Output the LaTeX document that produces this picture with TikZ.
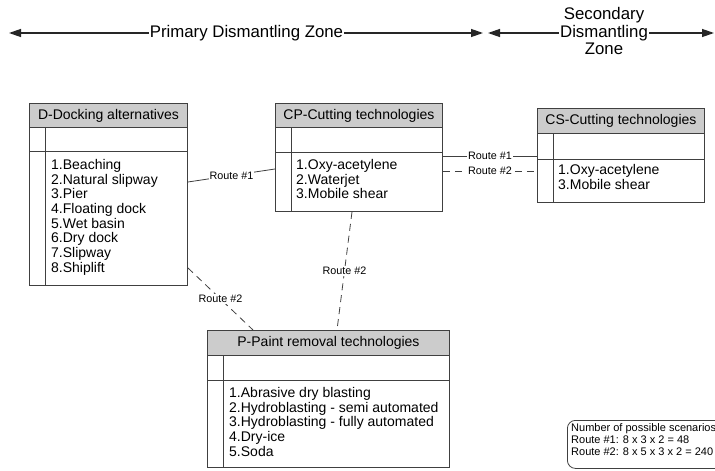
\documentclass[tikz,border=0pt]{standalone}
\usepackage{fontspec}
\setmainfont{Liberation Sans}
\usetikzlibrary{arrows.meta}
\tikzset{
  boxline/.style={draw=black!75, line width=0.9pt},
  hdr/.style={boxline, fill=black!20, font=\fontsize{14}{14.7}\selectfont, inner sep=0pt, anchor=north west},
  cell/.style={boxline, fill=white, inner sep=0pt, anchor=north west},
  listtext/.style={font=\fontsize{14}{14.7}\selectfont, align=left, inner sep=0pt, anchor=north west},
  route/.style={draw=black!75, line width=0.8pt},
  dashroute/.style={route, dash pattern=on 7pt off 5pt},
  rlabel/.style={font=\fontsize{10.8}{12}\selectfont, fill=white, inner xsep=1pt, inner ysep=1pt},
  zonearrow/.style={draw=black!85, line width=1.3pt, {Triangle[length=12pt,width=8pt]}-{Triangle[length=12pt,width=8pt]}},
  zonelabel/.style={font=\fontsize{16.8}{17.5}\selectfont, fill=white, inner xsep=1pt, inner ysep=0pt, align=center},
  notebox/.style={draw=black!75, line width=0.8pt, rounded corners=8pt, inner sep=0pt, anchor=north west},
  notetext/.style={font=\fontsize{11}{12}\selectfont, align=left, inner sep=0pt, anchor=north west},
}
\begin{document}
\begin{tikzpicture}[x=1pt,y=-1pt]
\useasboundingbox (0,0) rectangle (715,471);
\clip (0,0) rectangle (715,471);
\fill[white] (0,0) rectangle (715,471);

% zone arrows
\coordinate (pL) at (9,33);
\coordinate (pR) at (483,33);
\coordinate (sL) at (488,33);
\coordinate (sR) at (714,33);
\draw[zonearrow] (pL) -- (pR);
\draw[zonearrow] (sL) -- (sR);
\node[zonelabel, anchor=base] (pz) at (246.5,37.3) {Primary Dismantling Zone};
\node[zonelabel, anchor=north] (sz) at (604,7.5) {Secondary\\Dismantling\\Zone};

% D box
\node[hdr, minimum width=158, minimum height=24] (Dh) at (29,103) {D-Docking alternatives};
\node[cell, minimum width=158, minimum height=24] (Dr) at (29,127) {};
\node[cell, minimum width=158, minimum height=134] (Db) at (29,151) {};
\draw[boxline] ([xshift=16pt]Dr.north west) -- ([xshift=16pt]Db.south west);
\node[listtext] (Dl) at (51,159) {1.Beaching\\2.Natural slipway\\3.Pier\\4.Floating dock\\5.Wet basin\\6.Dry dock\\7.Slipway\\8.Shiplift};

% CP box
\node[hdr, minimum width=167, minimum height=24] (CPh) at (275,103) {CP-Cutting technologies};
\node[cell, minimum width=167, minimum height=25] (CPr) at (275,127) {};
\node[cell, minimum width=167, minimum height=59] (CPb) at (275,152) {};
\draw[boxline] ([xshift=16pt]CPr.north west) -- ([xshift=16pt]CPb.south west);
\node[listtext] (CPl) at (296,159) {1.Oxy-acetylene\\2.Waterjet\\3.Mobile shear};

% CS box
\node[hdr, minimum width=167, minimum height=25] (CSh) at (537,108) {CS-Cutting technologies};
\node[cell, minimum width=167, minimum height=26] (CSr) at (537,133) {};
\node[cell, minimum width=167, minimum height=43] (CSb) at (537,159) {};
\draw[boxline] ([xshift=16pt]CSr.north west) -- ([xshift=16pt]CSb.south west);
\node[listtext] (CSl) at (558,164) {1.Oxy-acetylene\\3.Mobile shear};

% P box
\node[hdr, minimum width=242, minimum height=25] (Ph) at (207,330) {P-Paint removal technologies};
\node[cell, minimum width=242, minimum height=25] (Pr) at (207,355) {};
\node[cell, minimum width=242, minimum height=87] (Pb) at (207,380) {};
\draw[boxline] ([xshift=16pt]Pr.north west) -- ([xshift=16pt]Pb.south west);
\node[listtext] (Pl) at (229,387) {1.Abrasive dry blasting\\2.Hydroblasting - semi automated\\3.Hydroblasting - fully automated\\4.Dry-ice\\5.Soda};

% routes
\draw[route] ([yshift=-31pt]Db.north east) -- node[rlabel] (r1a) {Route \#1} ([yshift=-17pt]CPb.north west);
\draw[route] ([yshift=-4pt]CPb.north east) -- node[rlabel] (r1b) {Route \#1} ([yshift=-4pt]CPb.north east -| CSr.west);
\draw[dashroute] ([yshift=-19pt]CPb.north east) -- node[rlabel] (r2c) {Route \#2} ([yshift=-19pt]CPb.north east -| CSb.west);
\draw[dashroute] ([yshift=18pt]Db.south east) -- node[rlabel] (r2a) {Route \#2} ([xshift=46pt]Ph.north west);
\draw[dashroute] ([xshift=77pt]CPb.south west) -- node[rlabel] (r2b) {Route \#2} ([xshift=130pt]Ph.north west);

% note
\node[notebox, minimum width=170, minimum height=48] (note) at (567,420) {};
\node[notetext] (notet) at (571,423.1) {Number of possible scenarios\\Route \#1: 8 x 3 x 2 = 48\\Route \#2: 8 x 5 x 3 x 2 = 240};
\end{tikzpicture}
\end{document}
